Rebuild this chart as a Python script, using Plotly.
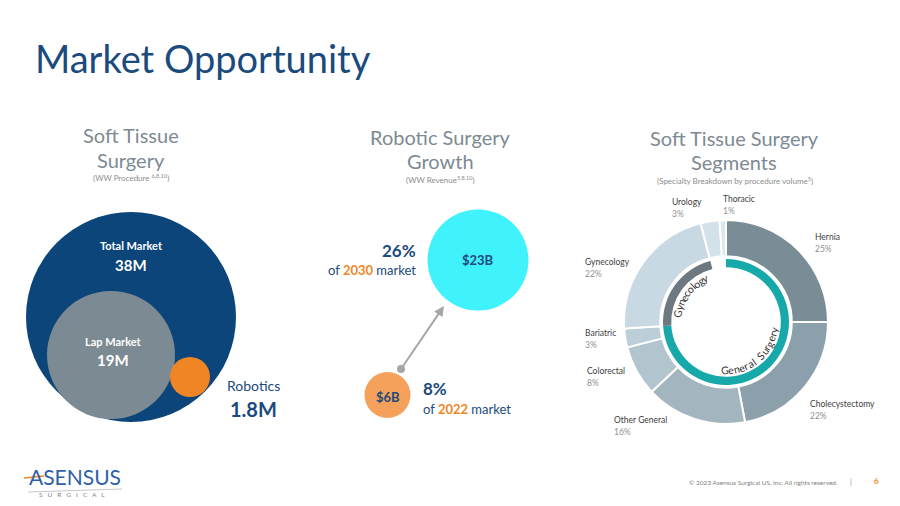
import math
import plotly.graph_objects as go

# ---------------- data ----------------
market_labels = ["Total Market", "Lap Market", "Robotics"]
market_values = ["38M", "19M", "1.8M"]

growth_values = ["$6B", "$23B"]
growth_years = ["2022", "2030"]
growth_shares = ["8%", "26%"]

segment_labels = ["Hernia", "Cholecystectomy", "Other General", "Colorectal",
                  "Bariatric", "Gynecology", "Urology", "Thoracic"]
segment_values = [25, 22, 16, 8, 3, 22, 3, 1]

group_labels = ["General Surgery", "Gynecology", ""]
group_values = [74, 22, 4]

# ---------------- styles ----------------
W, H = 900, 506
FONT = "Lato"
DARK_BLUE = "#1b4a7c"
CIRCLE_BLUE = "#0b457a"
ORANGE = "#f08526"
LIGHT_ORANGE = "#f5a05b"
CYAN = "#40f2fc"
GREY_HEAD = "#7d8a93"
NOTE_GREY = "#8c8c8c"
seg_colors = ["#7a8c96", "#8ca0ab", "#a3b6c0", "#b2c5cf", "#bccfd9",
              "#c9d9e3", "#d3e1e9", "#dde8ee"]
group_colors = ["#17a9aa", "#6e7880", "rgba(0,0,0,0)"]

fig = go.Figure()

annotations = []
shapes = []


def txt(x, y, text, size, color, bold=False, xanchor="center", yanchor="middle", angle=0):
    if bold:
        text = "<b>" + text + "</b>"
    annotations.append(dict(x=x, y=y, xref="x", yref="y", text=text, showarrow=False,
                            xanchor=xanchor, yanchor=yanchor, textangle=angle,
                            font=dict(family=FONT, size=size, color=color)))


def circle(cx, cy, r, color):
    shapes.append(dict(type="circle", xref="x", yref="y", x0=cx - r, x1=cx + r,
                       y0=cy - r, y1=cy + r, fillcolor=color, line=dict(width=0),
                       layer="below"))


# title
txt(33, 58, "Market Opportunity", 38, DARK_BLUE, xanchor="left")

# ---------- left panel ----------
txt(131, 135, "Soft Tissue", 20, GREY_HEAD)
txt(131, 160, "Surgery", 20, GREY_HEAD)
txt(131, 177, "(WW Procedure <sup>6,8,10</sup>)", 8, NOTE_GREY)
circle(131, 317, 105, CIRCLE_BLUE)
circle(111, 355, 64, "#7b8a93")
circle(190, 377, 20, ORANGE)
txt(131, 245, market_labels[0], 11, "white", bold=True)
txt(131, 265, market_values[0], 15, "white", bold=True)
txt(113, 341, market_labels[1], 11, "white", bold=True)
txt(113, 360, market_values[1], 15, "white", bold=True)
txt(253, 385, market_labels[2], 14, DARK_BLUE)
txt(253, 409, market_values[2], 20, DARK_BLUE, bold=True)

# ---------- middle panel ----------
txt(440, 137, "Robotic Surgery", 20, GREY_HEAD)
txt(440, 161, "Growth", 20, GREY_HEAD)
txt(440, 179, "(WW Revenue<sup>5,8,10</sup>)", 8, NOTE_GREY)
circle(478, 260, 50.5, CYAN)
circle(387.5, 395, 23, LIGHT_ORANGE)
txt(478, 260, growth_values[1], 13, DARK_BLUE, bold=True)
txt(387.5, 397, growth_values[0], 13, DARK_BLUE, bold=True)
annotations.append(dict(x=444, y=306, ax=401, ay=369, xref="x", yref="y", axref="x", ayref="y",
                        text="", showarrow=True, arrowhead=2, arrowsize=1, arrowwidth=2,
                        arrowcolor="#a6a6a6", standoff=0, startstandoff=0))
circle(401, 369, 4, "#a6a6a6")
txt(418, 250, growth_shares[1], 17, DARK_BLUE, bold=True, xanchor="right")
txt(418, 270, "of <b><span style='color:%s'>%s</span></b> market" % (ORANGE, growth_years[1]),
    13, DARK_BLUE, xanchor="right")
txt(421, 388, growth_shares[0], 17, DARK_BLUE, bold=True, xanchor="left")
txt(421, 409, "of <b><span style='color:%s'>%s</span></b> market" % (ORANGE, growth_years[0]),
    13, DARK_BLUE, xanchor="left")

# ---------- right panel ----------
txt(734, 138, "Soft Tissue Surgery", 20, GREY_HEAD)
txt(734, 162, "Segments", 20, GREY_HEAD)
txt(735, 180, "(Specialty Breakdown by procedure volume<sup>5</sup>)", 8, NOTE_GREY)

CX, CY, R = 726, 322, 102


def dom(r):
    return dict(x=[(CX - r) / W, (CX + r) / W], y=[1 - (CY + r) / H, 1 - (CY - r) / H])


fig.add_trace(go.Pie(labels=segment_labels, values=segment_values, sort=False,
                     direction="clockwise", rotation=0, hole=0.645,
                     marker=dict(colors=seg_colors, line=dict(color="white", width=2)),
                     textinfo="none", hoverinfo="label+percent", domain=dom(R),
                     showlegend=False))
fig.add_trace(go.Pie(labels=["General Surgery", "Gynecology", "Other"], values=group_values,
                     sort=False, direction="clockwise", rotation=0, hole=0.87,
                     marker=dict(colors=group_colors, line=dict(width=0)),
                     textinfo="none", hoverinfo="label", domain=dom(63),
                     showlegend=False))

seg_label_pos = {
    "Hernia": (813, 237), "Cholecystectomy": (808, 404), "Other General": (612, 420),
    "Colorectal": (585, 371), "Bariatric": (583, 333), "Gynecology": (583, 262),
    "Urology": (670, 202), "Thoracic": (721, 199),
}
for lab, val in zip(segment_labels, segment_values):
    x, y = seg_label_pos[lab]
    txt(x, y, lab, 8.5, "#404040", xanchor="left")
    txt(x, y + 12, "%d%%" % val, 8.5, "#909090", xanchor="left")


# curved group labels
def char_w(c):
    if c in "ilrtfj ":
        return 0.32
    if c in "mwGS":
        return 0.7
    return 0.52


def arc_text(text, r, th0, th1, tops_in, size=10.5, color="#333333"):
    ws = [char_w(c) for c in text]
    total = sum(ws)
    acc = 0
    for c, w in zip(text, ws):
        frac = (acc + w / 2) / total
        acc += w
        if c == " ":
            continue
        th = th0 + (th1 - th0) * frac
        rad = math.radians(th)
        x = CX + r * math.sin(rad)
        y = CY - r * math.cos(rad)
        ang = th - 180 if tops_in else th - 360
        txt(x, y, c, size, color, angle=ang)


arc_text(group_labels[0], 48.5, 186, 96, tops_in=True)
arc_text(group_labels[1], 48.5, 276, 338, tops_in=False)

# ---------- footer ----------
txt(27, 476, "ASENSUS", 21, "#2f5fa8", xanchor="left")
shapes.append(dict(type="line", xref="x", yref="y", x0=24, y0=478, x1=44, y1=476,
                   line=dict(color=ORANGE, width=1.5)))
shapes.append(dict(type="line", xref="x", yref="y", x0=28, y0=492, x1=122, y1=489,
                   line=dict(color="#9aa4ab", width=0.6)))
txt(37, 494, "S   U   R   G   I   C   A   L", 6.5, "#7f7f7f", xanchor="left")
txt(840, 482, "© 2023 Asensus Surgical US, Inc. All rights reserved.", 6.5, "#7f7f7f",
    xanchor="right")
txt(851, 482, "|", 7, "#7f7f7f")
txt(876, 481, "6", 8, ORANGE, bold=True)

fig.update_layout(
    width=W, height=H, margin=dict(l=0, r=0, t=0, b=0),
    paper_bgcolor="white", plot_bgcolor="white",
    xaxis=dict(range=[0, W], visible=False, fixedrange=True),
    yaxis=dict(range=[H, 0], visible=False, fixedrange=True),
    annotations=annotations, shapes=shapes,
    font=dict(family=FONT),
)

fig.write_html("out.html", config={"displayModeBar": False},
               post_script="document.body.style.margin='0';")
